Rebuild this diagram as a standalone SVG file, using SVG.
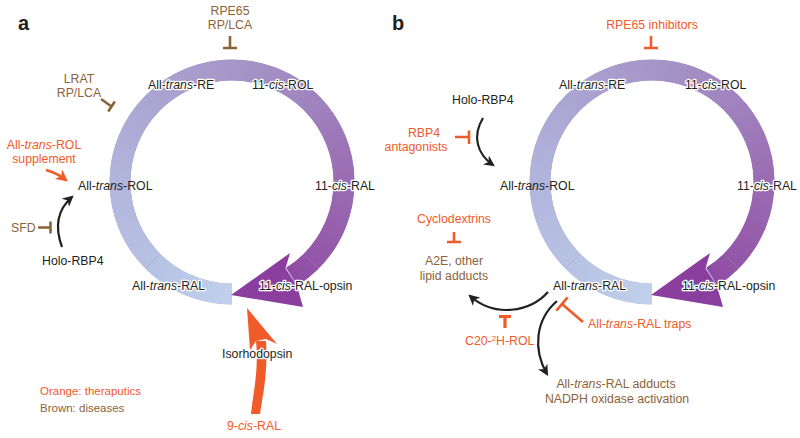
<svg xmlns="http://www.w3.org/2000/svg" xmlns:xlink="http://www.w3.org/1999/xlink" width="800" height="438" viewBox="0 0 800 438">
<style>
text{font-family:"Liberation Sans",Arial,sans-serif;font-size:12.3px;fill:#231f20}
.o{fill:#f15a29}
.br{fill:#8c6239}
.halo{stroke:#fff;stroke-width:2.6px;stroke-linejoin:round;paint-order:stroke}
.i{font-style:italic}
.lg{font-size:11.5px}
.pl{font-size:20px;font-weight:bold}
.blk{fill:none;stroke:#231f20;stroke-width:2.2}
.tb{fill:none;stroke:#8c6239;stroke-width:2.6}
.to{fill:none;stroke:#f15a29;stroke-width:2.6}
.seg{fill:none;stroke-width:21}
</style>
<defs>
<marker id="ab" viewBox="0 0 10 10" refX="8" refY="5" markerWidth="5" markerHeight="5" orient="auto" markerUnits="strokeWidth"><path d="M0,0 L10,5 L0,10 L3,5 z" fill="#231f20"/></marker>
<marker id="ao" viewBox="0 0 10 10" refX="8" refY="5" markerWidth="5" markerHeight="5" orient="auto" markerUnits="strokeWidth"><path d="M0,0 L10,5 L0,10 L3,5 z" fill="#f15a29"/></marker>
<linearGradient id="g1" gradientUnits="userSpaceOnUse" x1="232" y1="294" x2="152.8" y2="261.2"><stop offset="0" stop-color="#c0d0eb"/><stop offset="1" stop-color="#b7c2e3"/></linearGradient>
<linearGradient id="g2" gradientUnits="userSpaceOnUse" x1="152.8" y1="261.2" x2="120" y2="182"><stop offset="0" stop-color="#b7c2e3"/><stop offset="1" stop-color="#b1b5dc"/></linearGradient>
<linearGradient id="g3" gradientUnits="userSpaceOnUse" x1="120" y1="182" x2="152.8" y2="102.8"><stop offset="0" stop-color="#b1b5dc"/><stop offset="1" stop-color="#aba5d2"/></linearGradient>
<linearGradient id="g4" gradientUnits="userSpaceOnUse" x1="152.8" y1="102.8" x2="232" y2="70"><stop offset="0" stop-color="#aba5d2"/><stop offset="1" stop-color="#a596c8"/></linearGradient>
<linearGradient id="g5" gradientUnits="userSpaceOnUse" x1="232" y1="70" x2="311.2" y2="102.8"><stop offset="0" stop-color="#a596c8"/><stop offset="1" stop-color="#a083be"/></linearGradient>
<linearGradient id="g6" gradientUnits="userSpaceOnUse" x1="311.2" y1="102.8" x2="344" y2="182"><stop offset="0" stop-color="#a083be"/><stop offset="1" stop-color="#9a6cb2"/></linearGradient>
<linearGradient id="g7" gradientUnits="userSpaceOnUse" x1="344" y1="182" x2="311.2" y2="261.2"><stop offset="0" stop-color="#9a6cb2"/><stop offset="1" stop-color="#9355a8"/></linearGradient>
<linearGradient id="g8" gradientUnits="userSpaceOnUse" x1="311.2" y1="261.2" x2="291.4" y2="277"><stop offset="0" stop-color="#9355a8"/><stop offset="1" stop-color="#8e4aa3"/></linearGradient>
<g id="ring">
<path d="M232,294 A112,112 0 1 1 291.4,277" fill="none" stroke="#a596c8" stroke-width="20.6"/>
<path class="seg" stroke="url(#g1)" d="M232,294 A112,112 0 0 1 152.8,261.2"/>
<path class="seg" stroke="url(#g2)" d="M152.8,261.2 A112,112 0 0 1 120,182"/>
<path class="seg" stroke="url(#g3)" d="M120,182 A112,112 0 0 1 152.8,102.8"/>
<path class="seg" stroke="url(#g4)" d="M152.8,102.8 A112,112 0 0 1 232,70"/>
<path class="seg" stroke="url(#g5)" d="M232,70 A112,112 0 0 1 311.2,102.8"/>
<path class="seg" stroke="url(#g6)" d="M311.2,102.8 A112,112 0 0 1 344,182"/>
<path class="seg" stroke="url(#g7)" d="M344,182 A112,112 0 0 1 311.2,261.2"/>
<path class="seg" stroke="url(#g8)" d="M311.2,261.2 A112,112 0 0 1 292,276.5"/>
<path d="M231,295 L290,253 L285.5,268.5 L297,286 L303,307 Z" fill="#8a3f9f"/>
</g>
</defs>

<text class="pl" x="18" y="30">a</text>
<text class="pl" x="392" y="30">b</text>

<g id="cycle-a"><use xlink:href="#ring" href="#ring"/></g>
<g id="cycle-b"><use xlink:href="#ring" href="#ring" x="420"/></g>

<g id="connectors">
<path class="tb" d="M230,36 V48 M223,48 H237"/>
<path class="tb" d="M101,99 L111.5,106.5 M108.2,111.5 L114.8,101.5"/>
<path d="M46,170 Q57,173 66,180" fill="none" stroke="#f15a29" stroke-width="2.4" marker-end="url(#ao)"/>
<path class="blk" d="M62,247 C55,228 57,210 72,197" marker-end="url(#ab)"/>
<path class="tb" d="M38,227.5 H50 M50.5,221.5 V233.5"/>
<path d="M251,414 C253,392 259,372 256,341 L266,341 C268,372 263,394 260,414 Z" fill="#f15a29"/>
<path d="M247,308 L277,344 L266,339 L256,341 L250,350 Z" fill="#f15a29"/>
<path class="to" d="M651,36 V48 M644,48 H658"/>
<path class="blk" d="M483,118 C472,136 477,154 493,165" marker-end="url(#ab)"/>
<path class="to" d="M455,137 H469 M469,130.5 V144"/>
<path class="to" d="M454,232 V242 M447,242 H461"/>
<path class="blk" d="M548,292 C530,312 495,318 470,296" marker-end="url(#ab)"/>
<path class="blk" d="M557,301 C535,320 533,350 547,374" marker-end="url(#ab)"/>
<path class="to" d="M505,328 V316.5 M499,316.5 H511" style="stroke-width:3.2"/>
<path class="to" d="M583,322 L562,304 M556.4,310.6 L567.6,297.4"/>
</g>

<g id="labels-a">
<text class="br" x="230" y="15" text-anchor="middle">RPE65</text>
<text class="br" x="230" y="29" text-anchor="middle">RP/LCA</text>
<text class="br" x="79" y="83" text-anchor="middle">LRAT</text>
<text class="br" x="79" y="97" text-anchor="middle">RP/LCA</text>
<text class="o" x="44" y="149" text-anchor="middle">All-<tspan class="i">trans</tspan>-ROL</text>
<text class="o" x="44" y="163" text-anchor="middle">supplement</text>
<g id="a-atre"><text class="halo" x="148" y="89">All-<tspan class="i">trans</tspan>-RE</text></g>
<g id="a-11crol"><text class="halo" x="252" y="89">11-<tspan class="i">cis</tspan>-ROL</text></g>
<g id="a-atrol"><text x="78" y="190">All-<tspan class="i">trans</tspan>-ROL</text></g>
<g id="a-11cral"><text class="halo" x="315" y="190">11-<tspan class="i">cis</tspan>-RAL</text></g>
<text class="br" x="11" y="232">SFD</text>
<g id="a-holo"><text x="42" y="265">Holo-RBP4</text></g>
<g id="a-atral"><text class="halo" x="132" y="290">All-<tspan class="i">trans</tspan>-RAL</text></g>
<g id="a-opsin"><text class="halo" x="259" y="290">11-<tspan class="i">cis</tspan>-RAL-opsin</text></g>
<g id="a-iso"><text class="halo" x="222" y="358">Isorhodopsin</text></g>
<text class="o" x="227" y="430">9-<tspan class="i">cis</tspan>-RAL</text>
<text class="o lg" x="40" y="395">Orange: theraputics</text>
<text class="br lg" x="40" y="412">Brown: diseases</text>
</g>

<g id="labels-b">
<text class="o" x="652" y="29" text-anchor="middle">RPE65 inhibitors</text>
<g id="b-atre"><text class="halo" x="559" y="89">All-<tspan class="i">trans</tspan>-RE</text></g>
<g id="b-11crol"><text class="halo" x="685" y="89">11-<tspan class="i">cis</tspan>-ROL</text></g>
<g id="b-holo"><text x="452" y="104">Holo-RBP4</text></g>
<text class="o" x="424" y="137" text-anchor="middle">RBP4</text>
<text class="o" x="416" y="151" text-anchor="middle">antagonists</text>
<g id="b-atrol"><text x="500" y="190">All-<tspan class="i">trans</tspan>-ROL</text></g>
<g id="b-11cral"><text class="halo" x="737" y="190">11-<tspan class="i">cis</tspan>-RAL</text></g>
<text class="o" x="454" y="223" text-anchor="middle">Cyclodextrins</text>
<g id="b-a2e"><text class="br" x="454" y="265" text-anchor="middle">A2E, other</text>
<text class="br" x="454" y="280" text-anchor="middle">lipid adducts</text></g>
<g id="b-atral"><text class="halo" x="553" y="290">All-<tspan class="i">trans</tspan>-RAL</text></g>
<g id="b-opsin"><text class="halo" x="682" y="290">11-<tspan class="i">cis</tspan>-RAL-opsin</text></g>
<text class="o" x="465" y="345">C20-<tspan font-size="8" dy="-4">2</tspan><tspan dy="4">H-ROL</tspan></text>
<text class="o" x="588" y="328">All-<tspan class="i">trans</tspan>-RAL traps</text>
<g id="b-adducts"><text class="br" x="616" y="388" text-anchor="middle">All-<tspan class="i">trans</tspan>-RAL adducts</text>
<text class="br" x="617" y="403" text-anchor="middle">NADPH oxidase activation</text></g>
</g>
</svg>
